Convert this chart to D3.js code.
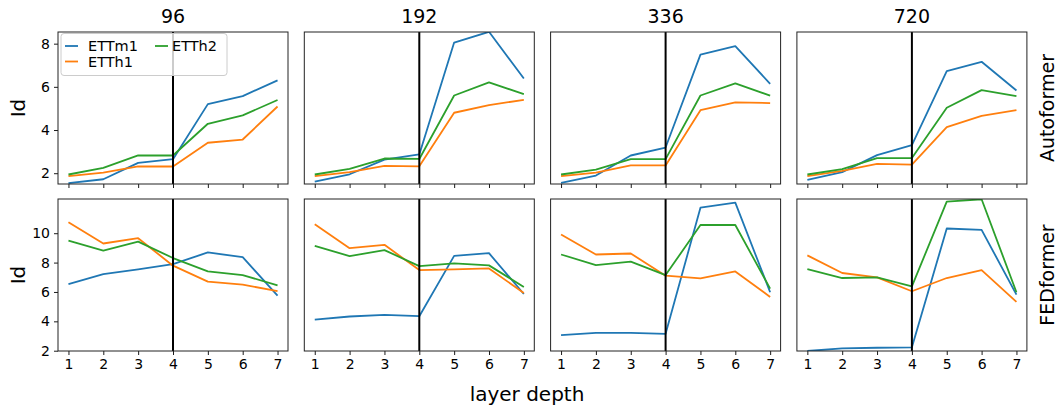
<!DOCTYPE html>
<html>
<head>
<meta charset="utf-8">
<script src="https://cdn.jsdelivr.net/npm/d3@7"></script>
<style>
  body { margin: 0; background: #fff; }
  svg { font-family: 'DejaVu Sans', sans-serif; }
</style>
</head>
<body>
<svg id="ch_sv" width="1060" height="410"></svg>
<script>
(function () {
    'use strict';

    const la_de = [1, 2, 3, 4, 5, 6, 7];
    const ho_ri = ['96', '192', '336', '720'];
    const mo_de = ['Autoformer', 'FEDformer'];
    const da_se = ['ETTm1', 'ETTh1', 'ETTh2'];
    const co_se = ['#1f77b4', '#ff7f0e', '#2ca02c'];

    // Autoformer, one row per horizon (96, 192, 336, 720)
    const au_m1 = [
        [1.54, 1.72, 2.48, 2.65, 5.20, 5.57, 6.30],
        [1.61, 1.95, 2.63, 2.87, 8.05, 8.55, 6.39],
        [1.55, 1.89, 2.82, 3.19, 7.49, 7.89, 6.14],
        [1.69, 2.05, 2.84, 3.30, 6.73, 7.16, 5.83]
    ];
    const au_h1 = [
        [1.86, 2.03, 2.32, 2.31, 3.41, 3.56, 5.09],
        [1.86, 2.05, 2.34, 2.32, 4.80, 5.15, 5.40],
        [1.86, 2.03, 2.36, 2.36, 4.92, 5.28, 5.25],
        [1.86, 2.11, 2.43, 2.40, 4.13, 4.66, 4.92]
    ];
    const au_h2 = [
        [1.94, 2.25, 2.83, 2.82, 4.29, 4.68, 5.39],
        [1.94, 2.20, 2.68, 2.66, 5.60, 6.21, 5.66],
        [1.94, 2.17, 2.65, 2.65, 5.60, 6.16, 5.59],
        [1.94, 2.19, 2.70, 2.70, 5.03, 5.85, 5.57]
    ];
    // FEDformer
    const fe_m1 = [
        [6.54, 7.22, 7.54, 7.90, 8.69, 8.37, 5.75],
        [4.12, 4.33, 4.44, 4.35, 8.46, 8.64, 5.86],
        [3.06, 3.22, 3.22, 3.15, 11.74, 12.08, 5.98],
        [1.98, 2.16, 2.20, 2.23, 10.32, 10.23, 5.82]
    ];
    const fe_h1 = [
        [10.75, 9.30, 9.66, 7.79, 6.70, 6.50, 6.05],
        [10.61, 8.98, 9.21, 7.49, 7.54, 7.60, 5.93],
        [9.91, 8.55, 8.62, 7.11, 6.93, 7.40, 5.66],
        [8.49, 7.29, 6.99, 6.05, 6.95, 7.49, 5.32]
    ];
    const fe_h2 = [
        [9.50, 8.82, 9.43, 8.31, 7.40, 7.15, 6.45],
        [9.14, 8.44, 8.85, 7.76, 7.94, 7.81, 6.34],
        [8.55, 7.83, 8.06, 7.15, 10.56, 10.56, 6.23],
        [7.56, 6.95, 6.99, 6.38, 12.15, 12.31, 5.98]
    ];

    const y_do = [[1.5, 8.54], [1.98, 12.33]];
    const y_ti = [[2, 4, 6, 8], [2, 4, 6, 8, 10]];
    const va_mo = [[au_m1, au_h1, au_h2], [fe_m1, fe_h1, fe_h2]];

    const sv = d3.select('#ch_sv');
    const pa_le = 58, pa_st = 246.3, pa_wi = 230, pa_he = 152;
    const pa_to = [32, 199];

    const x_sc = d3.scaleLinear().domain([0.7, 7.3]).range([0, pa_wi]);

    mo_de.forEach((mo, r) => {
        const y_sc = d3.scaleLinear().domain(y_do[r]).range([pa_he, 0]);

        ho_ri.forEach((ho, c) => {
            const gr = sv.append('g')
                .attr('transform', `translate(${pa_le + c * pa_st},${pa_to[r]})`);

            const cl_id = `cl_${r}_${c}`;
            gr.append('clipPath').attr('id', cl_id)
                .append('rect').attr('width', pa_wi).attr('height', pa_he);

            // x axis
            const x_ax = d3.axisBottom(x_sc).tickValues(la_de).tickSize(4).tickPadding(4)
                .tickFormat(r === 1 ? d3.format('d') : () => '');
            const xg = gr.append('g').attr('transform', `translate(0,${pa_he})`).call(x_ax);
            xg.select('.domain').remove();
            xg.selectAll('line').attr('stroke', '#000').attr('stroke-width', 0.9);
            xg.selectAll('text').style('font-size', '14px').attr('fill', '#000')
                .style('font-family', 'DejaVu Sans');

            if (c === 0) {
                const y_ax = d3.axisLeft(y_sc).tickValues(y_ti[r]).tickSize(4).tickPadding(4)
                    .tickFormat(d3.format('d'));
                const yg = gr.append('g').call(y_ax);
                yg.select('.domain').remove();
                yg.selectAll('line').attr('stroke', '#000').attr('stroke-width', 0.9);
                yg.selectAll('text').style('font-size', '14px').attr('fill', '#000')
                    .style('font-family', 'DejaVu Sans');

                sv.append('text')
                    .attr('transform', `translate(18,${pa_to[r] + pa_he / 2}) rotate(-90)`)
                    .attr('text-anchor', 'middle')
                    .attr('dy', '0.35em')
                    .style('font-size', '20px')
                    .text('Id');
            }

            const li = d3.line().x((d, i) => x_sc(la_de[i])).y(d => y_sc(d));
            const pl = gr.append('g').attr('clip-path', `url(#${cl_id})`);
            va_mo[r].forEach((se, k) => {
                pl.append('path')
                    .datum(se[c])
                    .attr('d', li)
                    .attr('fill', 'none')
                    .attr('stroke', co_se[k])
                    .attr('stroke-width', 1.8)
                    .attr('stroke-linejoin', 'round');
            });

            pl.append('line')
                .attr('x1', x_sc(4)).attr('x2', x_sc(4))
                .attr('y1', 0).attr('y2', pa_he)
                .attr('stroke', '#000').attr('stroke-width', 2);

            gr.append('rect')
                .attr('width', pa_wi).attr('height', pa_he)
                .attr('fill', 'none').attr('stroke', '#222').attr('stroke-width', 1);

            if (r === 0) {
                gr.append('text')
                    .attr('x', pa_wi / 2).attr('y', -9)
                    .attr('text-anchor', 'middle')
                    .style('font-size', '19px')
                    .text(ho);
            }

            if (c === ho_ri.length - 1) {
                sv.append('text')
                    .attr('transform', `translate(1047,${pa_to[r] + pa_he / 2}) rotate(-90)`)
                    .attr('text-anchor', 'middle')
                    .attr('dy', '0.35em')
                    .style('font-size', '19px')
                    .text(mo);
            }

            // legend only in the first panel
            if (r === 0 && c === 0) {
                const le = gr.append('g').attr('transform', 'translate(3,1.5)');
                le.append('rect')
                    .attr('width', 166).attr('height', 42).attr('rx', 3)
                    .attr('fill', '#fff').attr('fill-opacity', 0.8)
                    .attr('stroke', '#ccc').attr('stroke-width', 1);
                const le_po = [[0, 0], [0, 1], [1, 0]];
                da_se.forEach((na, k) => {
                    const lx = 4 + le_po[k][0] * 90;
                    const ly = 12.5 + le_po[k][1] * 15.5;
                    le.append('line')
                        .attr('x1', lx).attr('x2', lx + 13)
                        .attr('y1', ly).attr('y2', ly)
                        .attr('stroke', co_se[k]).attr('stroke-width', 1.8);
                    le.append('text')
                        .attr('x', lx + 23 - le_po[k][0] * 6).attr('y', ly)
                        .attr('dy', '0.35em')
                        .style('font-size', '14.5px')
                        .text(na);
                });
            }
        });
    });

    sv.append('text')
        .attr('x', 527).attr('y', 401)
        .attr('text-anchor', 'middle')
        .style('font-size', '20px')
        .text('layer depth');
})();
</script>
</body>
</html>
